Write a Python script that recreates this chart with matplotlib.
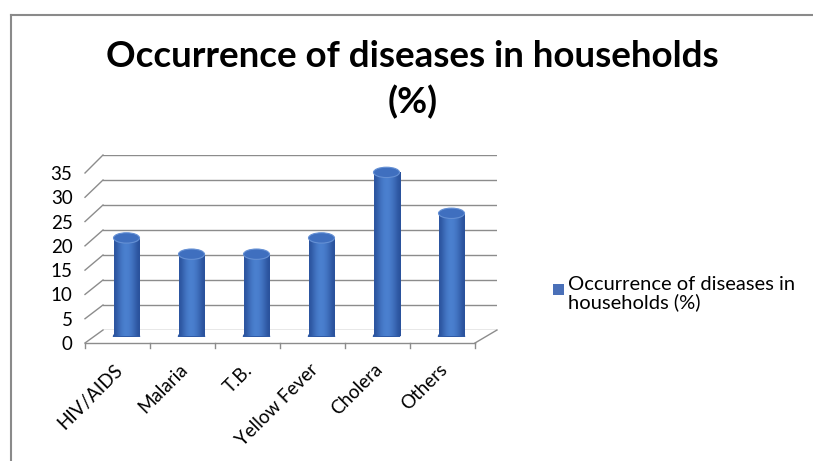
import matplotlib
matplotlib.use("Agg")
import matplotlib.pyplot as plt
import numpy as np
from matplotlib.patches import Ellipse, Rectangle
from matplotlib.lines import Line2D
from matplotlib.transforms import ScaledTranslation

categories = ["HIV/AIDS", "Malaria", "T.B.", "Yellow Fever", "Cholera", "Others"]
values = [20, 16.7, 16.7, 20, 33.3, 25]
yticks = [0, 5, 10, 15, 20, 25, 30, 35]
title = "Occurrence of diseases in households\n(%)"
series_name = "Occurrence of diseases in\nhouseholds (%)"

plt.rcParams['font.family'] = ['Lato', 'DejaVu Sans']

W, H = 813, 461
fig = plt.figure(figsize=(W / 100, H / 100), dpi=100)

def px_axes(x0, x1, ytop, ybot, **kw):
    return fig.add_axes([x0 / W, 1 - ybot / H, (x1 - x0) / W, (ybot - ytop) / H], **kw)

n = len(categories)
grid_c = "#8c8c8c"

# back wall (gridlines)
ax_back = px_axes(103, 497, 155, 330)
ax_back.set_xlim(-0.5, n - 0.5)
ax_back.set_ylim(0, 35)
for t in yticks:
    ax_back.axhline(t, color=grid_c, lw=1.0)
ax_back.axis("off")

# front plane (axis labels, floor edge)
ax = px_axes(85, 475, 173, 343)
ax.set_xlim(-0.5, n - 0.5)
ax.set_ylim(0, 35)
ax.patch.set_alpha(0)
for s in ax.spines.values():
    s.set_visible(False)
ax.set_yticks(yticks)
ax.tick_params(axis="y", length=0, pad=9, labelsize=13.5)
ax.set_xticks(range(n))
ax.set_xticklabels(categories, rotation=45, ha="right", fontsize=13.5)
ax.tick_params(axis="x", length=0, pad=13)
shift = ScaledTranslation(6 / 72, 0, fig.dpi_scale_trans)
for lab in ax.get_xticklabels():
    lab.set_transform(lab.get_transform() + shift)
ax.axhline(0, color=grid_c, lw=1.0, clip_on=False)
for k in range(n + 1):
    ax.plot([k - 0.5, k - 0.5], [0, -1], color=grid_c, lw=1.0, clip_on=False)

# left wall and floor connections in pixel space
to_fig = fig.transFigure.inverted()
for t in yticks:
    p0 = ax.transData.transform((-0.5, t))
    p1 = ax_back.transData.transform((-0.5, t))
    (a, b), (c, d) = to_fig.transform([p0, p1])
    fig.add_artist(Line2D([a, c], [b, d], color=grid_c, lw=1.0))
p0 = ax.transData.transform((n - 0.5, 0))
p1 = ax_back.transData.transform((n - 0.5, 0))
(a, b), (c, d) = to_fig.transform([p0, p1])
fig.add_artist(Line2D([a, c], [b, d], color=grid_c, lw=1.0))

# cylinders at mid depth
ax_mid = px_axes(94, 484, 164, 336.5)
ax_mid.set_xlim(-0.5, n - 0.5)
ax_mid.set_ylim(0, 35)
ax_mid.axis("off")
ax_mid.patch.set_alpha(0)

bw = 0.4
eh = 2.1
grad = np.array([[0.05, 0.45, 0.75, 0.9, 0.85, 0.65, 0.35, 0.0]])
cmap = matplotlib.colors.LinearSegmentedColormap.from_list("cyl", ["#2a529c", "#4f86d6"])
for i, v in enumerate(values):
    ax_mid.add_patch(Ellipse((i, 0), bw, eh, color="#2f5aa6", zorder=2))
    rect = Rectangle((i - bw / 2, 0), bw, v, facecolor="none", edgecolor="none", zorder=3)
    ax_mid.add_patch(rect)
    im = ax_mid.imshow(grad, extent=[i - bw / 2, i + bw / 2, 0, v], cmap=cmap,
                       vmin=0, vmax=1, aspect="auto", interpolation="bicubic", zorder=3)
    im.set_clip_path(rect)
    ax_mid.add_patch(Ellipse((i, v), bw, eh, facecolor="#3f6fbf",
                             edgecolor="#6590d4", lw=0.8, zorder=4))
ax_mid.set_xlim(-0.5, n - 0.5)
ax_mid.set_ylim(0, 35)

# title
fig.text(0.507, 1 - 40 / H, title, ha="center", va="top", fontsize=26.5,
         fontweight="bold", linespacing=1.4)

# legend
fig.add_artist(Rectangle((553 / W, 1 - 295 / H), 11 / W, 11 / H,
                         transform=fig.transFigure, facecolor="#4a70b8", edgecolor="none"))
fig.text(568 / W, 1 - 276 / H, series_name, ha="left", va="top", fontsize=14.5,
         linespacing=1.05)

# chart frame
fig.add_artist(Line2D([11 / W, 11 / W], [0, 1 - 15 / H], color="#8a8a8a", lw=1.5))
fig.add_artist(Line2D([11 / W, 1], [1 - 15 / H, 1 - 15 / H], color="#8a8a8a", lw=1.5))

fig.savefig("out.png", dpi=100)
